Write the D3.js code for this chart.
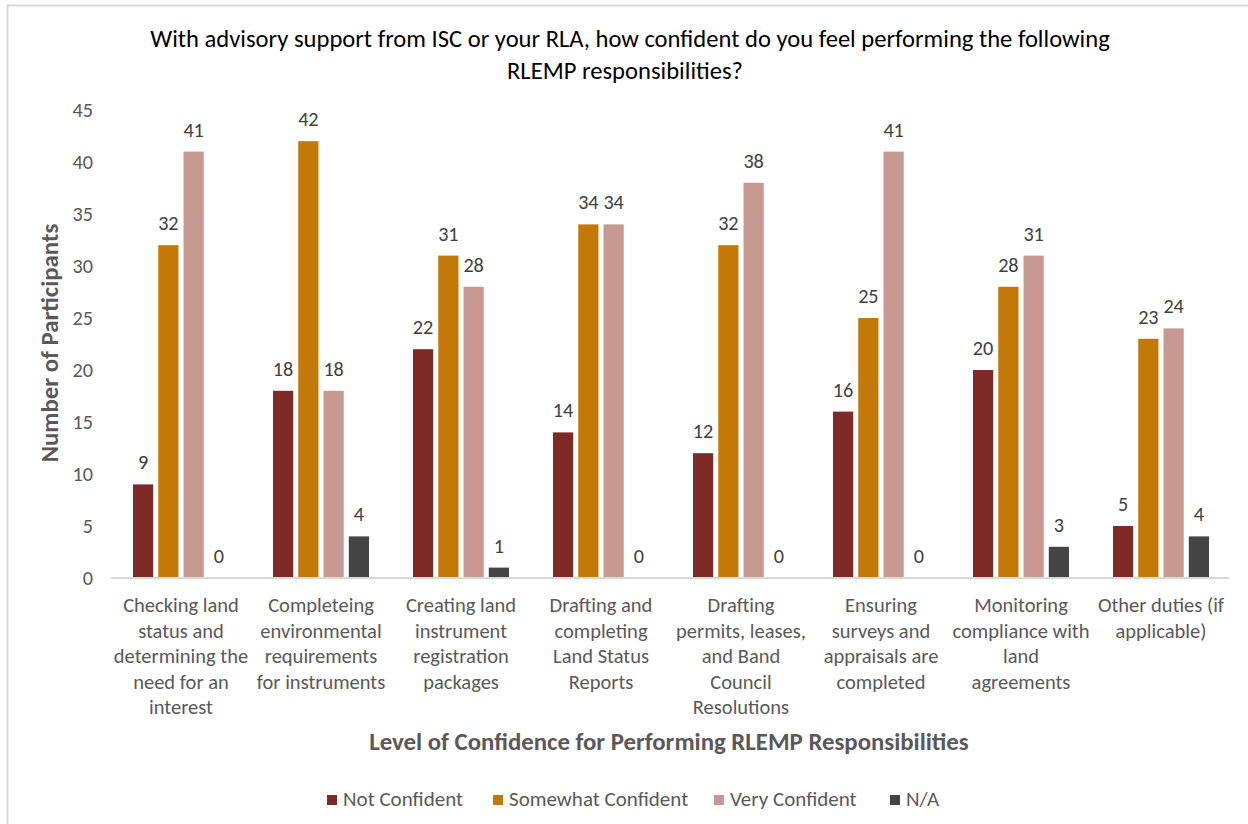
<!DOCTYPE html>
<html>
<head>
<meta charset="utf-8">
<script src="https://cdn.jsdelivr.net/npm/d3@7"></script>
<style>
  html, body { margin: 0; padding: 0; background: #fff; }
  svg { display: block; }
  text { font-family: Carlito, Calibri, "Open Sans", sans-serif; }
</style>
</head>
<body>
<svg id="chart" width="1248" height="824"></svg>
<script>
// Survey responses: confidence performing RLEMP responsibilities
const categories = [
  ["Checking land", "status and", "determining the", "need for an", "interest"],
  ["Completeing", "environmental", "requirements", "for instruments"],
  ["Creating land", "instrument", "registration", "packages"],
  ["Drafting and", "completing", "Land Status", "Reports"],
  ["Drafting", "permits, leases,", "and Band", "Council", "Resolutions"],
  ["Ensuring", "surveys and", "appraisals are", "completed"],
  ["Monitoring", "compliance with", "land", "agreements"],
  ["Other duties (if", "applicable)"]
];
const seriesNames = ["Not Confident", "Somewhat Confident", "Very Confident", "N/A"];
const notConfident      = [9, 18, 22, 14, 12, 16, 20, 5];
const somewhatConfident = [32, 42, 31, 34, 32, 25, 28, 23];
const veryConfident     = [41, 18, 28, 34, 38, 41, 31, 24];
const notApplicable     = [0, 4, 1, 0, 0, 0, 3, 4];
const yTicks = [0, 5, 10, 15, 20, 25, 30, 35, 40, 45];

const seriesValues = [notConfident, somewhatConfident, veryConfident, notApplicable];
const colors = ["#7E2B27", "#C47807", "#C89893", "#444444"];

const svg = d3.select("#chart");

// outer chart frame
svg.append("rect")
  .attr("x", 7.5).attr("y", 5.5)
  .attr("width", 1260).attr("height", 840)
  .attr("fill", "#fff").attr("stroke", "#D9D9D9").attr("stroke-width", 2);

const plot = { left: 111, right: 1231, top: 110, bottom: 578 };

const catIdx = categories.map((d, i) => i);
const x0 = d3.scaleBand().domain(catIdx).range([plot.left, plot.right]).padding(0);
const x1 = d3.scaleBand().domain(d3.range(seriesNames.length))
  .range([22, x0.bandwidth() - 22]).paddingInner(0.2);
const y = d3.scaleLinear().domain([0, 45]).range([plot.bottom, plot.top]);

// title
const title = svg.append("text")
  .attr("text-anchor", "middle")
  .attr("fill", "#000")
  .style("font-size", "24.6px");
title.append("tspan").attr("x", 630).attr("y", 47)
  .text("With advisory support from ISC or your RLA, how confident do you feel performing the following");
title.append("tspan").attr("x", 625).attr("y", 79)
  .text("RLEMP responsibilities?");

// y axis (labels only)
const yAxis = d3.axisLeft(y).tickValues(yTicks).tickSize(0).tickPadding(0);
const yg = svg.append("g").attr("transform", `translate(${93},0)`).call(yAxis);
yg.select(".domain").remove();
yg.selectAll("text")
  .attr("fill", "#595959")
  .style("font-size", "20.2px")
  .style("font-family", "Carlito, Calibri, 'Open Sans', sans-serif");

// bars
const groups = svg.append("g").selectAll("g")
  .data(catIdx)
  .join("g")
  .attr("transform", d => `translate(${x0(d)},0)`);

groups.selectAll("rect")
  .data(ci => seriesValues.map((vals, si) => ({ si, v: vals[ci] })))
  .join("rect")
  .attr("x", d => x1(d.si))
  .attr("width", x1.bandwidth())
  .attr("y", d => y(d.v))
  .attr("height", d => y(0) - y(d.v))
  .attr("fill", d => colors[d.si]);

groups.selectAll("text.val")
  .data(ci => seriesValues.map((vals, si) => ({ si, v: vals[ci] })))
  .join("text")
  .attr("class", "val")
  .attr("x", d => x1(d.si) + x1.bandwidth() / 2)
  .attr("y", d => y(d.v) - 15)
  .attr("text-anchor", "middle")
  .attr("fill", "#404040")
  .style("font-size", "20.2px")
  .text(d => d.v);

// x axis line
const xAxis = d3.axisBottom(x0).tickSize(0).tickFormat("");
const xg = svg.append("g").attr("transform", `translate(0,${plot.bottom})`).call(xAxis);
xg.select(".domain").attr("stroke", "#D9D9D9").attr("stroke-width", 2)
  .attr("d", `M${plot.left},0H${plot.right - 2}`);

// category labels
const catLabels = svg.append("g").selectAll("text")
  .data(catIdx)
  .join("text")
  .attr("text-anchor", "middle")
  .attr("fill", "#595959")
  .style("font-size", "20.5px");
catLabels.each(function(ci) {
  const t = d3.select(this);
  categories[ci].forEach((line, li) => {
    t.append("tspan")
      .attr("x", x0(ci) + x0.bandwidth() / 2)
      .attr("y", 612 + li * 25.5)
      .text(line);
  });
});

// axis titles
svg.append("text")
  .attr("transform", `translate(58,343) rotate(-90)`)
  .attr("text-anchor", "middle")
  .attr("fill", "#595959")
  .style("font-size", "24.8px")
  .style("font-weight", "bold")
  .text("Number of Participants");

svg.append("text")
  .attr("x", 669).attr("y", 750)
  .attr("text-anchor", "middle")
  .attr("fill", "#595959")
  .style("font-size", "24.8px")
  .style("font-weight", "bold")
  .text("Level of Confidence for Performing RLEMP Responsibilities");

// legend
const legendX = [327, 493, 714, 890];
const legend = svg.append("g").selectAll("g")
  .data(seriesNames)
  .join("g")
  .attr("transform", (d, i) => `translate(${legendX[i]},795)`);
legend.append("rect")
  .attr("width", 10).attr("height", 10)
  .attr("fill", (d, i) => colors[i]);
legend.append("text")
  .attr("x", 16).attr("y", 11)
  .attr("fill", "#595959")
  .style("font-size", "21px")
  .text(d => d);
</script>
</body>
</html>
